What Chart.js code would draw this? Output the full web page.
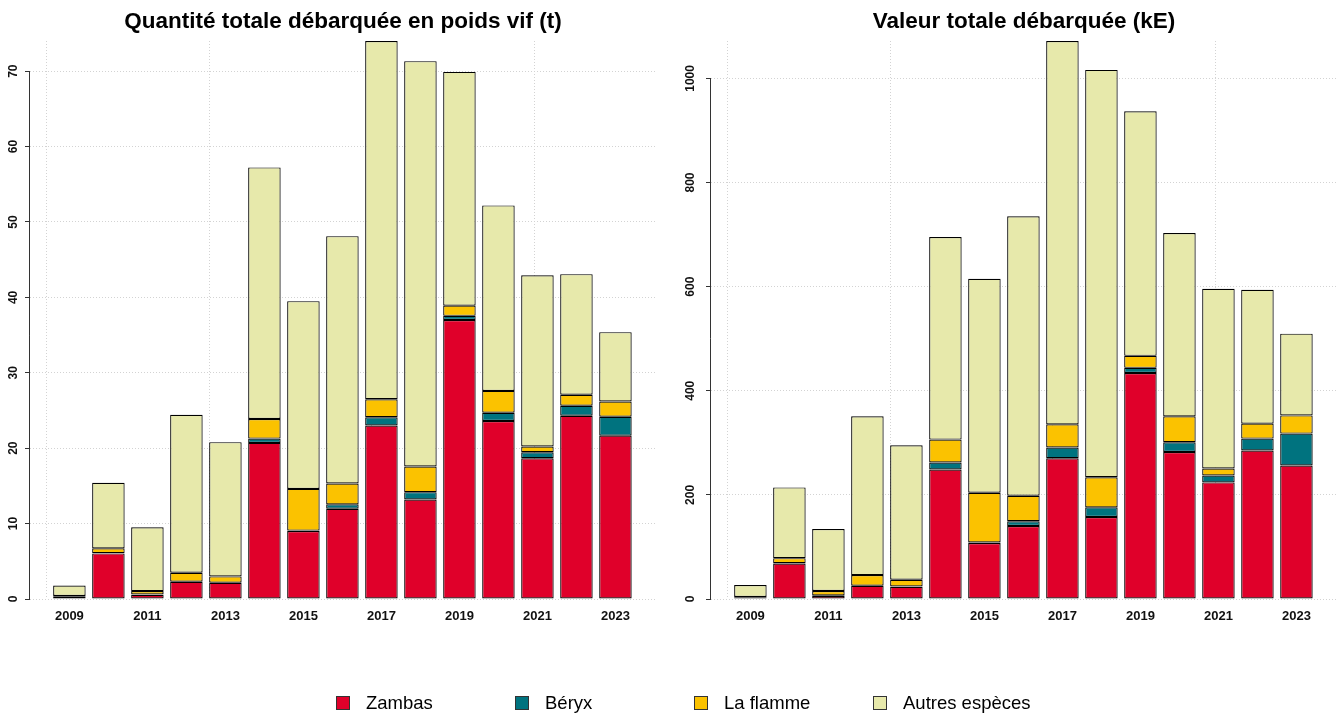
<!DOCTYPE html>
<html>
<head>
<meta charset="utf-8">
<script src="https://cdn.jsdelivr.net/npm/chart.js@4.4.0/dist/chart.umd.min.js"></script>
<style>
  body { margin: 0; background: #fff; width: 1341px; height: 713px; position: relative; overflow: hidden;
         font-family: "Liberation Sans", Arial, sans-serif; }
  canvas { position: absolute; top: 0; }
  #left { left: 0; }
  #right { left: 670px; }
  .leg { position: absolute; top: 692px; height: 22px; display: flex; align-items: center; font-size: 18.5px; color: #000; white-space: nowrap; }
  .leg .box { width: 12px; height: 12px; border: 1px solid #333; margin-right: 16px; }
</style>
</head>
<body>
<canvas id="left" width="670" height="713"></canvas>
<canvas id="right" width="671" height="713"></canvas>
<div id="legend"></div>
<script>
// years and species
const years = [2009, 2010, 2011, 2012, 2013, 2014, 2015, 2016, 2017, 2018, 2019, 2020, 2021, 2022, 2023];
const series = ['Zambas', 'Béryx', 'La flamme', 'Autres espèces'];
const colors = ['#E0002A', '#00737F', '#FBC200', '#E7E9AB'];

// Quantité totale débarquée en poids vif (t)
const qteZambas = [0.3, 6.05, 0.55, 2.28, 2.15, 20.7, 9.02, 11.97, 23.0, 13.2, 37.0, 23.6, 18.67, 24.3, 21.66];
const qteBeryx  = [0, 0.02, 0.05, 0, 0, 0.57, 0.05, 0.58, 1.1, 0.97, 0.55, 1.1, 0.8, 1.33, 2.5];
const qteFlamme = [0.1, 0.65, 0.45, 1.2, 0.85, 2.6, 5.53, 2.77, 2.4, 3.4, 1.35, 2.9, 0.75, 1.45, 2.03];
const qteAutres = [1.4, 8.7, 8.45, 20.95, 17.8, 33.37, 24.9, 32.8, 47.5, 53.76, 31.0, 24.6, 22.7, 16.0, 9.2];

// Valeur totale débarquée (kE)
const valZambas = [3.5, 68, 6, 25.5, 23.5, 248.8, 107.7, 140.3, 270.4, 157.5, 434, 282.5, 224, 285.2, 256.5];
const valBeryx  = [0, 1, 1, 0, 0.5, 13.4, 1, 9, 20.5, 18.5, 10, 18.5, 13.3, 22.9, 61.2];
const valFlamme = [0.5, 9.5, 8.3, 20.4, 13, 44, 95.3, 49, 44.6, 58, 23, 49.8, 13.4, 28.7, 35];
const valAutres = [22.8, 135.9, 119.2, 304.9, 258.3, 389.1, 411, 537, 736.3, 782.3, 470, 352.2, 345.3, 257.2, 157];

Chart.defaults.font.family = '"Liberation Sans", Arial, sans-serif';
Chart.defaults.color = '#111';

// R barplot: bars 1 wide, space 0.2 -> vertical grid every 5 units
const xMin = years[0] - 1.01;
const xMax = years[years.length - 1] + 1.04;
const gridX = [0, 5, 10, 15].map(u => years[0] + (u - 0.7) / 1.2);

// y axis line only from 0 to the last tick, like R
const axisLine = {
  id: 'axisLine',
  afterDraw(chart) {
    const y = chart.scales.y;
    const ctx = chart.ctx;
    const t = y.ticks;
    ctx.save();
    ctx.strokeStyle = '#333';
    ctx.lineWidth = 1;
    ctx.beginPath();
    ctx.moveTo(Math.round(y.right) - 0.5, y.getPixelForValue(t[0].value));
    ctx.lineTo(Math.round(y.right) - 0.5, y.getPixelForValue(t[t.length - 1].value));
    ctx.stroke();
    ctx.restore();
  }
};

function makeChart(id, title, vals, step, yWidth, padRight, tickPad) {
  const totals = years.map((_, j) => vals.reduce((s, a) => s + a[j], 0));
  return new Chart(document.getElementById(id), {
    type: 'bar',
    data: {
      datasets: series.map((name, i) => ({
        label: name,
        data: vals[i].map((v, j) => ({ x: years[j], y: v })),
        backgroundColor: colors[i],
        borderColor: '#000',
        borderWidth: 1.2,
        borderSkipped: false,
        barPercentage: 1 / 1.2,
        categoryPercentage: 1,
        stack: 'a'
      }))
    },
    options: {
      responsive: false,
      animation: false,
      layout: { padding: { left: 0, right: padRight, top: 0, bottom: 84 } },
      plugins: {
        legend: { display: false },
        tooltip: { enabled: false },
        title: {
          display: true, text: title, color: '#000', fullSize: false,
          font: { size: 22.5, weight: 'bold' },
          padding: { top: 8, bottom: 6 }
        }
      },
      scales: {
        x: {
          type: 'linear', min: xMin, max: xMax, offset: false, bounds: 'data',
          afterBuildTicks: s => { s.ticks = years.filter(v => v % 2 === 1).map(v => ({ value: v })); },
          afterFit: s => { s.height = 30; },
          grid: { display: false, drawTicks: false, offset: false },
          border: { display: false },
          ticks: { callback: v => String(v), padding: 10, autoSkip: false, maxRotation: 0,
                   color: '#111', font: { size: 13, weight: 'bold' } }
        },
        xg: {
          type: 'linear', position: 'top', min: xMin, max: xMax, offset: false, bounds: 'data',
          afterBuildTicks: s => { s.ticks = gridX.map(v => ({ value: v })); },
          afterFit: s => { s.height = 0; },
          grid: { color: '#d3d3d3', drawTicks: false, offset: false },
          border: { display: false, dash: [1, 2] },
          ticks: { display: false }
        },
        y: {
          stacked: true, min: 0, max: Math.max(...totals),
          afterFit: s => { s.width = yWidth; },
          grid: { color: '#d3d3d3', tickColor: '#333', tickLength: 5, tickWidth: 1 },
          border: { display: false, dash: [1, 2] },
          ticks: { stepSize: step, includeBounds: false, minRotation: 90, maxRotation: 90,
                   crossAlign: 'center', padding: tickPad, color: '#111',
                   callback: v => String(v),
                   font: { size: 12, weight: 'bold' } }
        }
      }
    },
    plugins: [axisLine]
  });
}

makeChart('left', 'Quantité totale débarquée en poids vif (t)',
  [qteZambas, qteBeryx, qteFlamme, qteAutres], 10, 30, 14, 5);
makeChart('right', 'Valeur totale débarquée (kE)',
  [valZambas, valBeryx, valFlamme, valAutres], 200, 41, 4, 2);

// legend below both charts, equal spacing like R horiz legend
const legend = document.getElementById('legend');
series.forEach((name, i) => {
  const item = document.createElement('div');
  item.className = 'leg';
  item.style.left = (336 + i * 179) + 'px';
  item.innerHTML = '<span class="box" style="background:' + colors[i] + '"></span>' + name;
  legend.appendChild(item);
});
</script>
</body>
</html>
